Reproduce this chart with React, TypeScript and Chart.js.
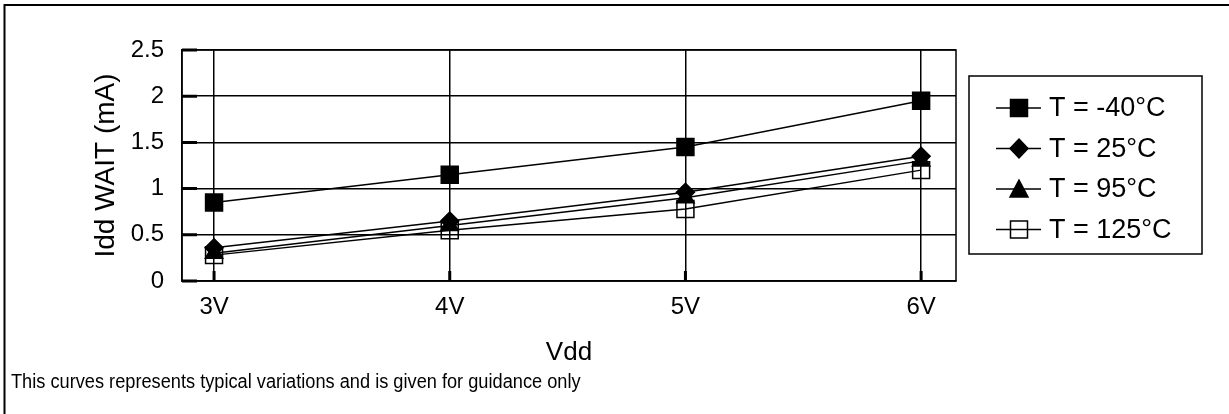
import React, { useEffect, useRef } from "react";
import { Chart, registerables } from "chart.js";

Chart.register(...registerables);

// ---- data ----
const vdd = [3, 4, 5, 6];
const vddLabels = ["3V", "4V", "5V", "6V"];
const seriesNames = ["T = -40°C", "T = 25°C", "T = 95°C", "T = 125°C"];
const iddM40 = [0.85, 1.15, 1.45, 1.95];
const idd25 = [0.36, 0.65, 0.96, 1.35];
const idd95 = [0.3, 0.6, 0.9, 1.3];
const idd125 = [0.28, 0.55, 0.78, 1.2];
const yTicks = [0, 0.5, 1, 1.5, 2, 2.5];
const yTitle = "Idd WAIT (mA)";
const xTitle = "Vdd";
const footnote =
  "This curves represents typical variations and is given for guidance only";

const FONT = "'Liberation Sans', Arial, Helvetica, sans-serif";

function drawMarker(
  ctx: CanvasRenderingContext2D,
  style: string,
  x: number,
  y: number,
  fill: string
) {
  ctx.save();
  ctx.beginPath();
  if (style === "rect") {
    ctx.rect(x - 8.5, y - 8.5, 17, 17);
  } else if (style === "rectRot") {
    ctx.moveTo(x, y - 9.5);
    ctx.lineTo(x + 9, y);
    ctx.lineTo(x, y + 9.5);
    ctx.lineTo(x - 9, y);
    ctx.closePath();
  } else if (style === "triangle") {
    ctx.moveTo(x, y - 9);
    ctx.lineTo(x + 9, y + 8);
    ctx.lineTo(x - 9, y + 8);
    ctx.closePath();
  }
  ctx.fillStyle = fill;
  ctx.fill();
  ctx.strokeStyle = "#000";
  ctx.lineWidth = 1.5;
  ctx.stroke();
  ctx.restore();
}

const decorPlugin = {
  id: "decor",
  beforeDraw(chart: any) {
    const ctx = chart.ctx;
    ctx.save();
    ctx.fillStyle = "#fff";
    ctx.fillRect(0, 0, chart.width, chart.height);
    ctx.restore();
  },
  afterDraw(chart: any) {
    const ctx: CanvasRenderingContext2D = chart.ctx;
    const { left, right, top, bottom } = chart.chartArea;
    const xs = chart.scales.x;
    const ys = chart.scales.y;
    ctx.save();
    // outer frame
    ctx.strokeStyle = "#000";
    ctx.lineWidth = 2;
    ctx.strokeRect(4.5, 5, 1400, 600);
    // plot border
    ctx.lineWidth = 1.5;
    ctx.strokeRect(left, top, right - left, bottom - top);
    // inward major tick marks
    ctx.lineWidth = 3;
    ctx.beginPath();
    yTicks.forEach((v) => {
      const py = ys.getPixelForValue(v);
      ctx.moveTo(left, py);
      ctx.lineTo(left + 15, py);
    });
    vdd.forEach((v) => {
      const px = xs.getPixelForValue(v);
      ctx.moveTo(px, bottom);
      ctx.lineTo(px, bottom - 10);
    });
    ctx.stroke();

    // legend
    const bx = 969,
      by = 76,
      bw = 233,
      bh = 178;
    ctx.lineWidth = 1.5;
    ctx.strokeRect(bx, by, bw, bh);
    ctx.font = `27px ${FONT}`;
    ctx.textBaseline = "middle";
    ctx.textAlign = "left";
    ctx.fillStyle = "#000";
    chart.data.datasets.forEach((ds: any, i: number) => {
      const cy = 108 + i * 40.5;
      ctx.beginPath();
      ctx.lineWidth = 1.5;
      ctx.moveTo(996, cy);
      ctx.lineTo(1041, cy);
      ctx.stroke();
      drawMarker(ctx, ds.pointStyle, 1019, cy, ds.pointBackgroundColor);
      ctx.fillStyle = "#000";
      ctx.fillText(ds.label, 1049, cy + 1);
    });

    // footnote
    ctx.font = `20px ${FONT}`;
    ctx.textBaseline = "alphabetic";
    ctx.translate(11, 388);
    ctx.scale(0.91, 1);
    ctx.fillText(footnote, 0, 0);
    ctx.restore();
  },
};

export default function App() {
  const ref = useRef<HTMLCanvasElement | null>(null);

  useEffect(() => {
    if (!ref.current) return;
    const mk = (vals: number[]) => vdd.map((x, i) => ({ x, y: vals[i] }));
    const common = {
      borderColor: "#000",
      borderWidth: 1.5,
      pointBorderColor: "#000",
      pointBorderWidth: 1.5,
      tension: 0,
      fill: false,
    };
    const chart = new Chart(ref.current, {
      type: "line",
      data: {
        datasets: [
          {
            ...common,
            label: seriesNames[0],
            data: mk(iddM40),
            pointStyle: "rect",
            pointRadius: 12,
            pointBackgroundColor: "#000",
          },
          {
            ...common,
            label: seriesNames[1],
            data: mk(idd25),
            pointStyle: "rectRot",
            pointRadius: 9,
            pointBackgroundColor: "#000",
          },
          {
            ...common,
            label: seriesNames[2],
            data: mk(idd95),
            pointStyle: "triangle",
            pointRadius: 10,
            pointBackgroundColor: "#000",
          },
          {
            ...common,
            label: seriesNames[3],
            data: mk(idd125),
            pointStyle: "rect",
            pointRadius: 12,
            pointBackgroundColor: "rgba(255,255,255,0)",
          },
        ],
      },
      options: {
        animation: false,
        responsive: false,
        devicePixelRatio: 1,
        layout: { padding: { left: 89, top: 50, right: 273, bottom: 46 } },
        plugins: {
          legend: { display: false },
          tooltip: { enabled: false },
        },
        scales: {
          x: {
            type: "linear",
            min: 2.864,
            max: 6.148,
            afterBuildTicks: (s: any) => {
              s.ticks = vdd.map((v) => ({ value: v }));
            },
            afterFit: (s: any) => {
              s.height = 87;
            },
            ticks: {
              callback: (v: any) => vddLabels[vdd.indexOf(Number(v))] ?? "",
              font: { family: FONT, size: 24 },
              color: "#000",
              padding: 12,
              maxRotation: 0,
              autoSkip: false,
            },
            grid: { color: "#000", lineWidth: 1.5, drawTicks: false },
            border: { color: "#000", width: 1.5 },
            title: {
              display: true,
              text: xTitle,
              font: { family: FONT, size: 26 },
              color: "#000",
              padding: { top: 0, bottom: 0 },
            },
          },
          y: {
            min: 0,
            max: 2.5,
            afterBuildTicks: (s: any) => {
              s.ticks = yTicks.map((v) => ({ value: v }));
            },
            afterFit: (s: any) => {
              s.width = 93;
            },
            ticks: {
              callback: (v: any) => String(v),
              font: { family: FONT, size: 24 },
              color: "#000",
              padding: 18,
            },
            grid: { color: "#000", lineWidth: 1.5, drawTicks: false },
            border: { color: "#000", width: 1.5 },
            title: {
              display: true,
              text: yTitle,
              font: { family: FONT, size: 28 },
              color: "#000",
              padding: { top: 0, bottom: 0 },
            },
          },
        },
      } as any,
      plugins: [decorPlugin],
    });
    return () => chart.destroy();
  }, []);

  return (
    <div
      style={{
        position: "absolute",
        left: 0,
        top: 0,
        width: 1229,
        height: 414,
        background: "#fff",
        overflow: "hidden",
      }}
    >
      <canvas
        ref={ref}
        width={1229}
        height={414}
        style={{ width: 1229, height: 414, display: "block" }}
      />
    </div>
  );
}
